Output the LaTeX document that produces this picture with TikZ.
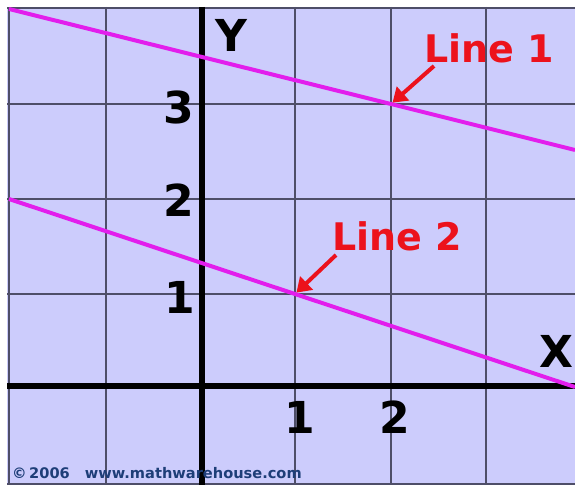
\documentclass[tikz,border=0pt]{standalone}
\usepackage{fontspec}
\setsansfont{DejaVu Sans}
\usetikzlibrary{arrows.meta}
\definecolor{lav}{RGB}{204,204,252}
\definecolor{gridc}{RGB}{78,78,104}
\definecolor{mag}{RGB}{226,30,236}
\definecolor{redt}{RGB}{236,18,28}
\definecolor{navy}{RGB}{30,62,120}
\tikzset{
  gridline/.style={draw=gridc, line width=2pt},
  axisline/.style={draw=black, line width=6pt},
  plotline/.style={draw=mag, line width=4pt},
  numlabel/.style={font=\sffamily\bfseries\fontsize{44}{44}\selectfont, text=black, inner sep=0pt, anchor=base},
  linelabel/.style={font=\sffamily\bfseries\fontsize{38}{38}\selectfont, text=redt, inner sep=0pt, anchor=base},
  pointer/.style={draw=redt, line width=4pt, -{Triangle[length=14pt,width=18pt]}},
}
\begin{document}
\begin{tikzpicture}[x=1pt,y=-1pt]
\useasboundingbox (0,0) rectangle (575,487);
% background
\fill[lav] (7,7) rectangle (575,485);
% grid
\foreach \gx in {9,106,295,391,486} \draw[gridline] (\gx,7) -- (\gx,485);
\foreach \gy in {8,104,199,294,484} \draw[gridline] (7,\gy) -- (575,\gy);
% axes
\draw[axisline] (202,7) -- (202,485);
\draw[axisline] (7,386) -- (575,386);
% lines
\begin{scope}
\clip (7,7) rectangle (575,485);
\coordinate (p1) at (391,104);
\coordinate (p2) at (295,294);
\draw[plotline] (9,9) -- (p1) -- (575,150);
\draw[plotline] (9,199) -- (p2) -- (575,387);
\end{scope}
% axis labels
\node[numlabel] (ylab) at (231,52) {Y};
\node[numlabel] (xlab) at (556,367) {X};
\node[numlabel] (y3) at (179,123) {3};
\node[numlabel] (y2) at (179,216) {2};
\node[numlabel] (y1) at (180,313) {1};
\node[numlabel] (x1) at (300,433) {1};
\node[numlabel] (x2) at (395,433) {2};
% line labels
\node[linelabel] (l1) at (489,63) {Line 1};
\node[linelabel] (l2) at (397,250) {Line 2};
\coordinate (a1) at (434,66);
\coordinate (a2) at (336,255);
\draw[pointer, shorten >=2pt] (a1) -- (p1);
\draw[pointer, shorten >=2pt] (a2) -- (p2);
% copyright
\node[font=\sffamily\bfseries\fontsize{14.6}{14.6}\selectfont, text=navy, inner sep=0pt, anchor=base west] (copy) at (12,478) {©\,2006\hspace{15pt}www.mathwarehouse.com};
\end{tikzpicture}
\end{document}
